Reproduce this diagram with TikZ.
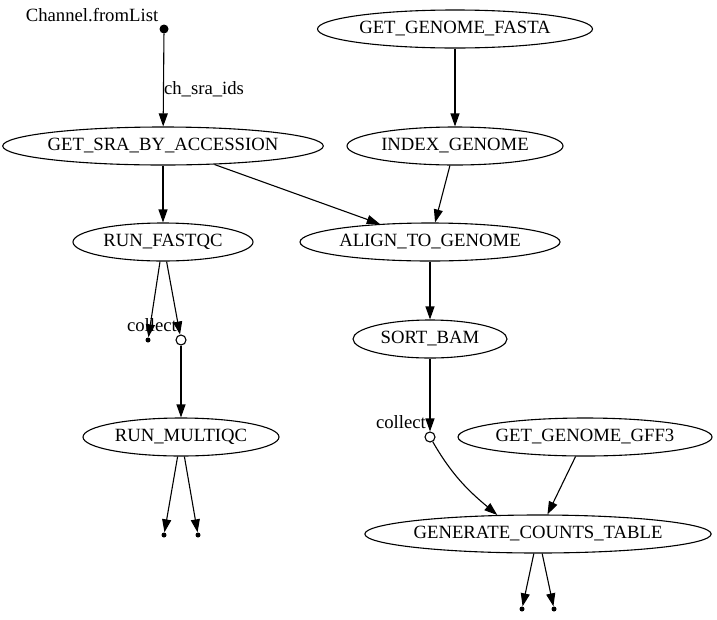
\documentclass[tikz,border=0pt]{standalone}
\usepackage{fontspec}
\setmainfont{Liberation Serif}
\usepackage{tikz}
\usetikzlibrary{arrows.meta,shapes.geometric}
\tikzset{
  >={Triangle[length=13pt,width=9pt]},
  every node/.style={font=\fontsize{18.7}{22}\selectfont},
  proc/.style={ellipse,draw,line width=1.1pt,minimum height=38pt,inner ysep=0pt,inner xsep=-2pt},
  src/.style={circle,fill,inner sep=0pt,minimum size=9pt},
  sink/.style={circle,fill,inner sep=0pt,minimum size=5pt},
  op/.style={circle,draw,line width=1.1pt,fill=white,inner sep=0pt,minimum size=10pt},
}
\begin{document}
\begin{tikzpicture}[x=1pt,y=-1pt,
  e/.style={->,line width=1.1pt},
  lbl/.style={inner sep=0pt}]
  \useasboundingbox (0,0) rectangle (717,619);
  \node[src] (list) at (164,29) {};
  \node[lbl] (listlbl) at (92,15) {Channel.fromList};
  \node[proc,minimum width=317pt] (sra) at (163,146) {GET\_SRA\_BY\_ACCESSION};
  \node[proc,minimum width=275pt] (fasta) at (455,29) {GET\_GENOME\_FASTA};
  \node[proc,minimum width=216pt] (index) at (455,146) {INDEX\_GENOME};
  \node[proc,minimum width=180pt] (fastqc) at (163,242) {RUN\_FASTQC};
  \node[proc,minimum width=260pt] (align) at (430,242) {ALIGN\_TO\_GENOME};
  \node[proc,minimum width=154pt] (sort) at (430,339) {SORT\_BAM};
  \node[sink] (qcout) at (148,340) {};
  \node[op] (col1) at (181,340) {};
  \node[lbl] (col1lbl) at (152,325) {collect};
  \node[proc,minimum width=196pt] (multiqc) at (181,437) {RUN\_MULTIQC};
  \node[sink] (mqout1) at (164,535) {};
  \node[sink] (mqout2) at (198,535) {};
  \node[op] (col2) at (430,437) {};
  \node[lbl] (col2lbl) at (401,422) {collect};
  \node[proc,minimum width=254pt] (gff) at (585,437) {GET\_GENOME\_GFF3};
  \node[proc,minimum width=345pt] (counts) at (538,534) {GENERATE\_COUNTS\_TABLE};
  \node[sink] (ctout1) at (522,609) {};
  \node[sink] (ctout2) at (554,609) {};
  % edges
  \draw[e] (list) -- node[lbl,pos=.6,right] {ch\_sra\_ids} (sra);
  \draw[e] (sra) -- (fastqc);
  \draw[e] (sra) -- (align);
  \draw[e] (fasta) -- (index);
  \draw[e] (index) -- (align);
  \draw[e] (fastqc) -- (qcout);
  \draw[e] (fastqc) -- (col1);
  \draw[e] (col1) -- (multiqc);
  \draw[e] (align) -- (sort);
  \draw[e] (sort) -- (col2);
  \draw[e] (col2) to[out=-60,in=140] (counts.155);
  \draw[e] (gff) -- (counts);
  \foreach \a/\b in {multiqc/mqout1,multiqc/mqout2,counts/ctout1,counts/ctout2}
    \draw[e] (\a) -- (\b);
\end{tikzpicture}
\end{document}
